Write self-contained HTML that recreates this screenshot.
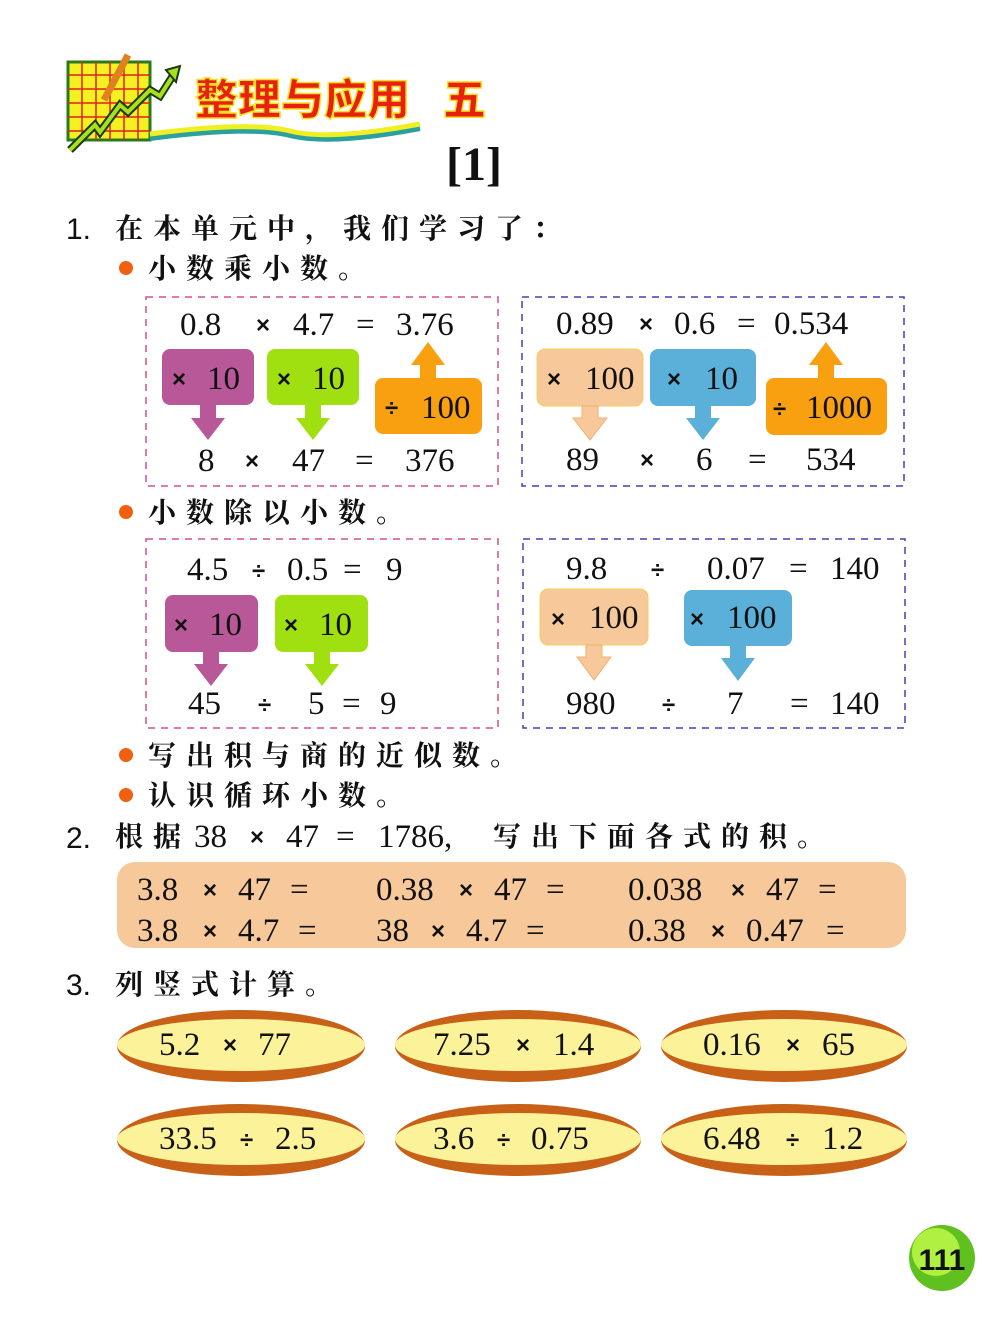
<!DOCTYPE html>
<html><head><meta charset="utf-8"><style>
html,body{margin:0;padding:0;background:#fff;width:1000px;height:1336px;overflow:hidden}
svg{display:block}
.n{font-family:"Liberation Serif",serif;font-size:33px;fill:#111}
.c{font-family:"Liberation Serif","Noto Serif CJK SC",serif;font-size:28px;fill:#111;letter-spacing:10px;font-weight:bold}
.h{font-family:"Liberation Sans",sans-serif;font-size:30px;fill:#111}
.x{font-family:"Liberation Sans",sans-serif;font-size:24px;fill:#111;font-weight:bold}
</style></head><body>
<svg width="1000" height="1336" viewBox="0 0 1000 1336" xmlns="http://www.w3.org/2000/svg">
<rect x="68" y="62" width="82" height="78" fill="#f5f020" stroke="#2a7a20" stroke-width="3"/>
<g stroke="#e02020" stroke-width="1.5">
<line x1="68" y1="75" x2="150" y2="75"/><line x1="68" y1="89" x2="150" y2="89"/><line x1="68" y1="103" x2="150" y2="103"/><line x1="68" y1="117" x2="150" y2="117"/><line x1="68" y1="131" x2="150" y2="131"/>
<line x1="82" y1="62" x2="82" y2="140"/><line x1="96" y1="62" x2="96" y2="140"/><line x1="110" y1="62" x2="110" y2="140"/><line x1="124" y1="62" x2="124" y2="140"/><line x1="138" y1="62" x2="138" y2="140"/>
</g>
<polyline points="70,150 95,125 100,132 120,105 128,112 150,90 160,96 174,74" fill="none" stroke="#1a3a10" stroke-width="8"/>
<polyline points="70,150 95,125 100,132 120,105 128,112 150,90 160,96 174,74" fill="none" stroke="#a8e020" stroke-width="4"/>
<polygon points="166,70 180,66 176,82" fill="#a8e020" stroke="#1a3a10" stroke-width="2"/>
<line x1="128" y1="55" x2="104" y2="100" stroke="#e08020" stroke-width="7"/>
<path d="M150 138 Q250 125 290 135 T420 128" fill="none" stroke="#2aa0a0" stroke-width="6"/>
<path d="M150 134 Q250 121 290 131 T420 124" fill="none" stroke="#f0f020" stroke-width="5"/>
<text x="195" y="115" font-family="Noto Sans CJK SC,sans-serif" font-weight="900" font-size="43" fill="#e82010" stroke="#f4e020" stroke-width="1.5">整理与应用</text>
<text x="443" y="115" font-family="Noto Sans CJK SC,sans-serif" font-weight="900" font-size="43" fill="#e82010" stroke="#f4e020" stroke-width="1.5">五</text>
<text x="446" y="180" font-family="Liberation Serif,serif" font-weight="bold" font-size="48" fill="#111">[1]</text>

<text x="66" y="239" class="h">1.</text>
<text x="115" y="238" class="c">在本单元中，我们学习了：</text>
<circle cx="126" cy="268" r="7" fill="#f06010"/>
<text x="148" y="278" class="c">小数乘小数。</text>

<rect x="146" y="297" width="352" height="189" fill="none" stroke="#d05090" stroke-width="1.5" stroke-dasharray="7,6"/>
<text x="180" y="335" class="n">0.8</text><text x="256" y="333" class="x">×</text><text x="293" y="335" class="n">4.7</text><text x="356" y="335" class="n">=</text><text x="396" y="335" class="n">3.76</text>
<rect x="162" y="349" width="92" height="56" rx="8" fill="#b85898"/>
<polygon points="200,405 216,405 216,418 225,418 208,440 191,418 200,418" fill="#b85898"/>
<text x="172" y="387" class="x">×</text><text x="207" y="389" class="n">10</text>
<rect x="267" y="349" width="92" height="56" rx="8" fill="#a0e010"/>
<polygon points="305,405 321,405 321,418 330,418 313,440 296,418 305,418" fill="#a0e010"/>
<text x="277" y="387" class="x">×</text><text x="312" y="389" class="n">10</text>
<rect x="375" y="378" width="107" height="56" rx="8" fill="#f8a010"/>
<polygon points="420,378 436,378 436,365 445,365 428,342 411,365 420,365" fill="#f8a010"/>
<text x="385" y="416" class="x">÷</text><text x="421" y="418" class="n">100</text>
<text x="198" y="471" class="n">8</text><text x="245" y="469" class="x">×</text><text x="292" y="471" class="n">47</text><text x="355" y="471" class="n">=</text><text x="405" y="471" class="n">376</text>

<rect x="522" y="297" width="382" height="189" fill="none" stroke="#4040b0" stroke-width="1.5" stroke-dasharray="7,6"/>
<text x="556" y="334" class="n">0.89</text><text x="639" y="332" class="x">×</text><text x="674" y="334" class="n">0.6</text><text x="737" y="334" class="n">=</text><text x="774" y="334" class="n">0.534</text>
<rect x="537" y="349" width="106" height="57" rx="8" fill="#f6c89a" stroke="#f0d060" stroke-width="1"/>
<polygon points="582,406 598,406 598,418 607,418 590,440 573,418 582,418" fill="#f6c89a" stroke="#f0b070" stroke-width="1"/>
<text x="547" y="387" class="x">×</text><text x="585" y="389" class="n">100</text>
<rect x="650" y="349" width="106" height="57" rx="8" fill="#5ab0d8"/>
<polygon points="695,406 711,406 711,418 720,418 703,440 686,418 695,418" fill="#5ab0d8"/>
<text x="667" y="387" class="x">×</text><text x="705" y="389" class="n">10</text>
<rect x="766" y="378" width="121" height="57" rx="8" fill="#f8a010"/>
<polygon points="818,378 834,378 834,365 843,365 826,342 809,365 818,365" fill="#f8a010"/>
<text x="773" y="417" class="x">÷</text><text x="806" y="418" class="n">1000</text>
<text x="566" y="470" class="n">89</text><text x="640" y="468" class="x">×</text><text x="696" y="470" class="n">6</text><text x="748" y="470" class="n">=</text><text x="806" y="470" class="n">534</text>

<circle cx="126" cy="512" r="7" fill="#f06010"/>
<text x="148" y="522" class="c">小数除以小数。</text>

<rect x="146" y="539" width="352" height="189" fill="none" stroke="#d05090" stroke-width="1.5" stroke-dasharray="7,6"/>
<text x="187" y="580" class="n">4.5</text><text x="252" y="579" class="x">÷</text><text x="287" y="580" class="n">0.5</text><text x="343" y="580" class="n">=</text><text x="386" y="580" class="n">9</text>
<rect x="165" y="595" width="93" height="57" rx="8" fill="#b85898"/>
<polygon points="203,652 219,652 219,664 228,664 211,686 194,664 203,664" fill="#b85898"/>
<text x="174" y="633" class="x">×</text><text x="209" y="635" class="n">10</text>
<rect x="275" y="595" width="93" height="57" rx="8" fill="#a0e010"/>
<polygon points="314,652 330,652 330,664 339,664 322,686 305,664 314,664" fill="#a0e010"/>
<text x="284" y="633" class="x">×</text><text x="319" y="635" class="n">10</text>
<text x="188" y="714" class="n">45</text><text x="258" y="713" class="x">÷</text><text x="308" y="714" class="n">5</text><text x="342" y="714" class="n">=</text><text x="380" y="714" class="n">9</text>

<rect x="523" y="539" width="382" height="189" fill="none" stroke="#4040b0" stroke-width="1.5" stroke-dasharray="7,6"/>
<text x="566" y="579" class="n">9.8</text><text x="651" y="578" class="x">÷</text><text x="707" y="579" class="n">0.07</text><text x="789" y="579" class="n">=</text><text x="830" y="579" class="n">140</text>
<rect x="540" y="589" width="108" height="56" rx="8" fill="#f6c89a" stroke="#f0d060" stroke-width="1"/>
<polygon points="586,645 602,645 602,657 611,657 594,680 577,657 586,657" fill="#f6c89a" stroke="#f0b070" stroke-width="1"/>
<text x="551" y="627" class="x">×</text><text x="589" y="628" class="n">100</text>
<rect x="684" y="590" width="108" height="56" rx="8" fill="#5ab0d8"/>
<polygon points="730,646 746,646 746,658 755,658 738,681 721,658 730,658" fill="#5ab0d8"/>
<text x="690" y="627" class="x">×</text><text x="727" y="628" class="n">100</text>
<text x="566" y="714" class="n">980</text><text x="662" y="713" class="x">÷</text><text x="727" y="714" class="n">7</text><text x="790" y="714" class="n">=</text><text x="830" y="714" class="n">140</text>

<circle cx="126" cy="755" r="7" fill="#f06010"/>
<text x="148" y="765" class="c">写出积与商的近似数。</text>
<circle cx="126" cy="795" r="7" fill="#f06010"/>
<text x="148" y="805" class="c">认识循环小数。</text>

<text x="66" y="848" class="h">2.</text>
<text x="115" y="846" class="c">根据</text>
<text x="194" y="847" class="n">38</text><text x="250" y="845" class="x">×</text><text x="286" y="847" class="n">47</text><text x="336" y="847" class="n">=</text><text x="378" y="847" class="n">1786,</text>
<text x="493" y="846" class="c">写出下面各式的积。</text>

<rect x="117" y="862" width="789" height="86" rx="18" fill="#f6c89a"/>
<text x="137" y="900" class="n">3.8</text><text x="203" y="898" class="x">×</text><text x="238" y="900" class="n">47</text><text x="290" y="900" class="n">=</text>
<text x="376" y="900" class="n">0.38</text><text x="459" y="898" class="x">×</text><text x="494" y="900" class="n">47</text><text x="546" y="900" class="n">=</text>
<text x="628" y="900" class="n">0.038</text><text x="731" y="898" class="x">×</text><text x="766" y="900" class="n">47</text><text x="818" y="900" class="n">=</text>
<text x="137" y="941" class="n">3.8</text><text x="203" y="939" class="x">×</text><text x="238" y="941" class="n">4.7</text><text x="298" y="941" class="n">=</text>
<text x="376" y="941" class="n">38</text><text x="431" y="939" class="x">×</text><text x="466" y="941" class="n">4.7</text><text x="526" y="941" class="n">=</text>
<text x="628" y="941" class="n">0.38</text><text x="711" y="939" class="x">×</text><text x="746" y="941" class="n">0.47</text><text x="826" y="941" class="n">=</text>

<text x="66" y="995" class="h">3.</text>
<text x="115" y="994" class="c">列竖式计算。</text>

<g>
<ellipse cx="241" cy="1046" rx="124" ry="36" fill="#c86018"/>
<ellipse cx="241" cy="1045" rx="124" ry="26" fill="#fbf29a"/>
<ellipse cx="518" cy="1046" rx="123" ry="36" fill="#c86018"/>
<ellipse cx="518" cy="1045" rx="123" ry="26" fill="#fbf29a"/>
<ellipse cx="784" cy="1046" rx="123" ry="36" fill="#c86018"/>
<ellipse cx="784" cy="1045" rx="123" ry="26" fill="#fbf29a"/>
<ellipse cx="241" cy="1140" rx="124" ry="36" fill="#c86018"/>
<ellipse cx="241" cy="1139" rx="124" ry="26" fill="#fbf29a"/>
<ellipse cx="518" cy="1140" rx="123" ry="36" fill="#c86018"/>
<ellipse cx="518" cy="1139" rx="123" ry="26" fill="#fbf29a"/>
<ellipse cx="784" cy="1140" rx="123" ry="36" fill="#c86018"/>
<ellipse cx="784" cy="1139" rx="123" ry="26" fill="#fbf29a"/>
</g>
<text x="159" y="1055" class="n">5.2</text><text x="223" y="1053" class="x">×</text><text x="258" y="1055" class="n">77</text>
<text x="433" y="1055" class="n">7.25</text><text x="516" y="1053" class="x">×</text><text x="553" y="1055" class="n">1.4</text>
<text x="703" y="1055" class="n">0.16</text><text x="786" y="1053" class="x">×</text><text x="822" y="1055" class="n">65</text>
<text x="159" y="1149" class="n">33.5</text><text x="240" y="1148" class="x">÷</text><text x="275" y="1149" class="n">2.5</text>
<text x="433" y="1149" class="n">3.6</text><text x="497" y="1148" class="x">÷</text><text x="531" y="1149" class="n">0.75</text>
<text x="703" y="1149" class="n">6.48</text><text x="786" y="1148" class="x">÷</text><text x="822" y="1149" class="n">1.2</text>

<circle cx="942" cy="1258" r="33" fill="#60c020"/>
<circle cx="936" cy="1252" r="24" fill="#b0f040"/>
<text x="942" y="1270" text-anchor="middle" font-family="Liberation Sans,sans-serif" font-weight="bold" font-size="30" fill="#111">111</text>
</svg>
</body></html>
